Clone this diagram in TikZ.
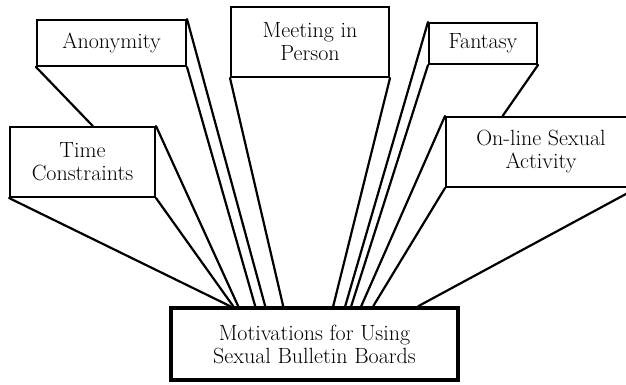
\documentclass[tikz,border=0pt]{standalone}
\usepackage{tikz}
\usetikzlibrary{calc}
\tikzset{
  mbox/.style={rectangle, draw=black, line width=2pt, fill=white, align=center, font=\fontsize{22}{23}\selectfont, inner sep=0pt},
  cbox/.style={mbox, line width=3.6pt},
  beam/.style={line width=2.2pt, black, line cap=round}
}
\begin{document}
\begin{tikzpicture}[x=1pt, y=-1pt]
  \useasboundingbox[fill=white] (0,0) rectangle (626,384);
  \clip (0,0) rectangle (626,384);

  \node[mbox, minimum width=149, minimum height=46] (anon) at (111.5,43) {Anonymity};
  \node[mbox, minimum width=145, minimum height=70] (time) at (82.5,162) {Time\\Constraints};
  \node[mbox, minimum width=158, minimum height=70] (meet) at (310,42) {Meeting in\\Person};
  \node[mbox, minimum width=108, minimum height=41] (fant) at (483,43.5) {Fantasy};
  \node[mbox, minimum width=190, minimum height=70] (online) at (541,152) {On-line Sexual\\Activity};
  \node[cbox, minimum width=287, minimum height=72] (mot) at (314.5,344) {Motivations for Using\\Sexual Bulletin Boards};

  \foreach \n/\dx in {tsw/61, tse/64, tne/69, ase/86, ane/96, msw/114, mse/164, fnw/176, fsw/182, onw/192, osw/204, ose/249}
    \coordinate (\n) at ($(mot.north west)+(\dx,0)$);
  \coordinate (ahide) at ($(time.north west)!0.57!(time.north east)$);
  \coordinate (fhide) at ($(online.north west)!0.30!(online.north east)$);

  \draw[beam] (time.south west) -- (tsw);
  \draw[beam] (time.south east) -- (tse);
  \draw[beam] (time.north east) -- (tne);
  \draw[beam] (anon.south west) -- (ahide);
  \draw[beam] (anon.south east) -- (ase);
  \draw[beam] (anon.north east) -- (ane);
  \draw[beam] (meet.south west) -- (msw);
  \draw[beam] (meet.south east) -- (mse);
  \draw[beam] (fant.north west) -- (fnw);
  \draw[beam] (fant.south west) -- (fsw);
  \draw[beam] (fant.south east) -- (fhide);
  \draw[beam] (online.north west) -- (onw);
  \draw[beam] (online.south west) -- (osw);
  \draw[beam] (online.south east) -- (ose);
\end{tikzpicture}
\end{document}
